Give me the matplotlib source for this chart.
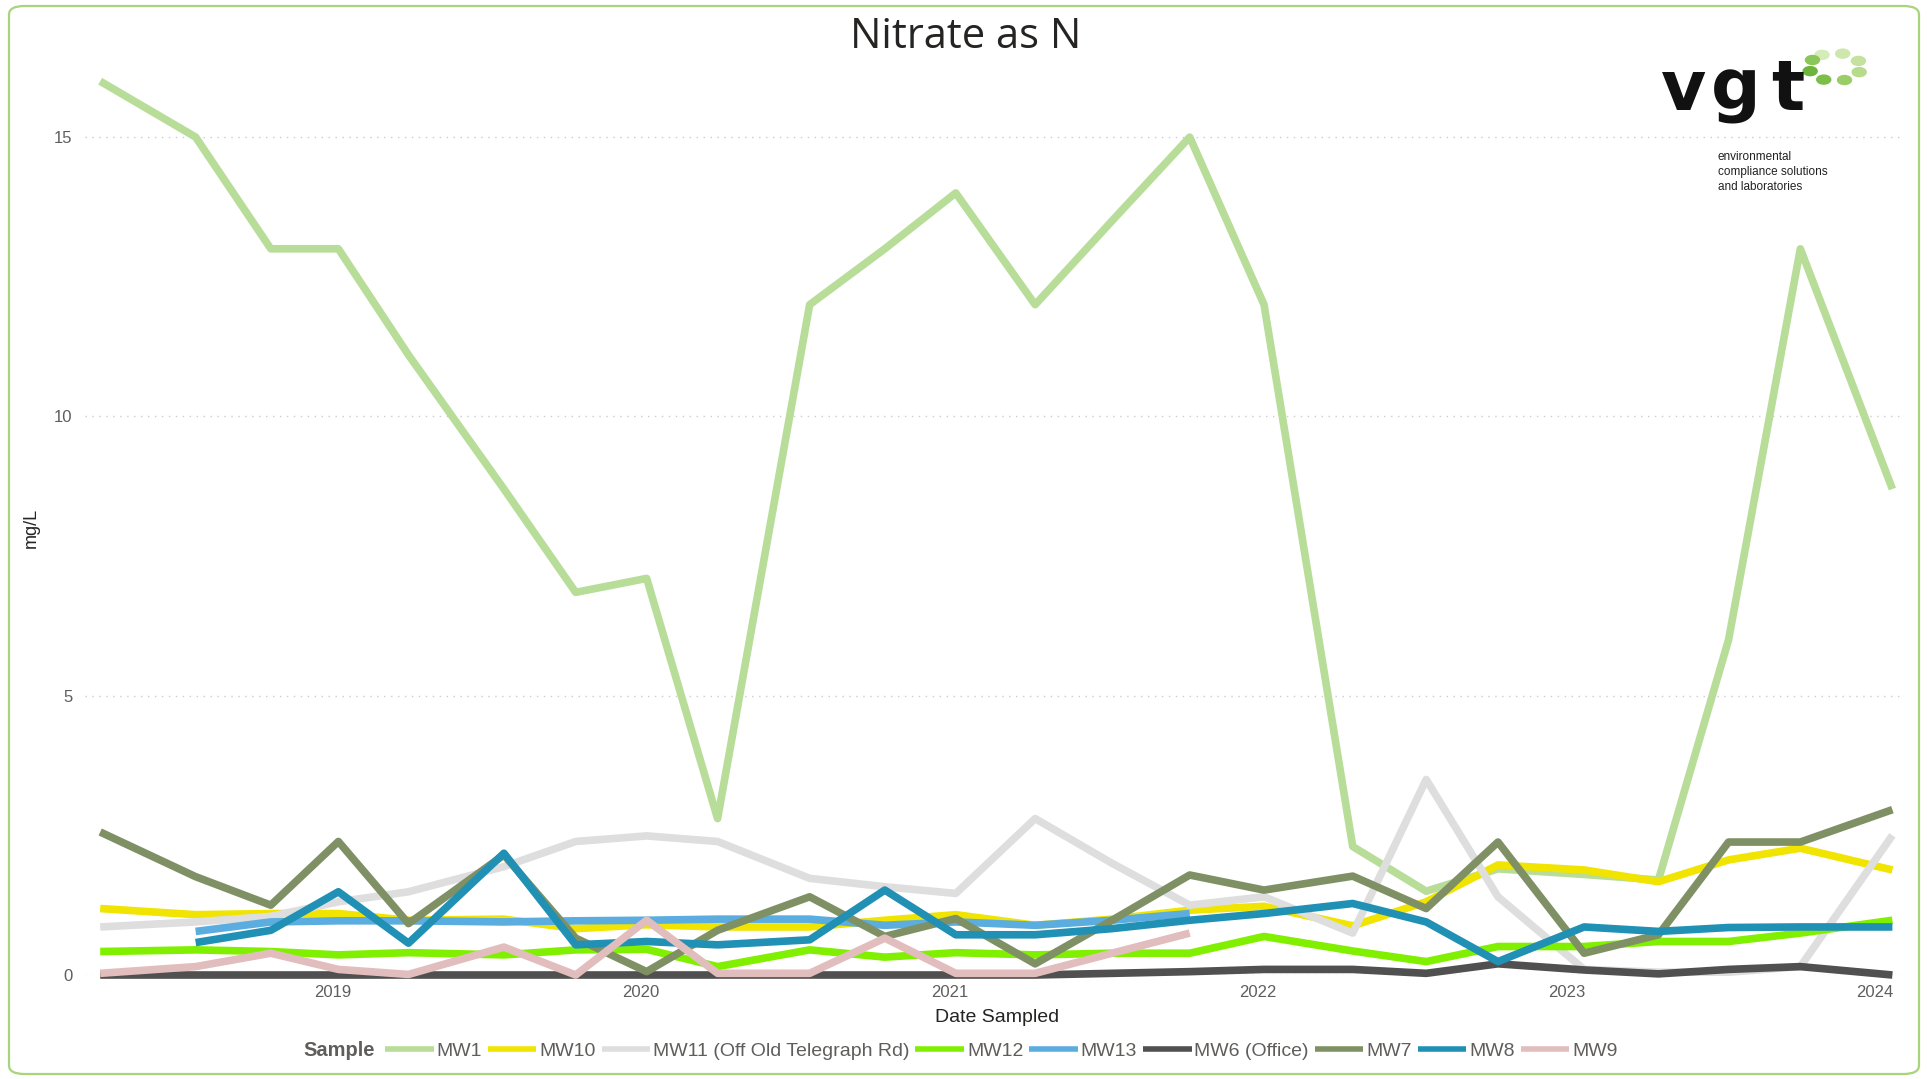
import numpy as np
import matplotlib
matplotlib.use("Agg")
import matplotlib.pyplot as plt
import matplotlib.dates as mdates
from matplotlib.patches import FancyBboxPatch, Ellipse

nan = np.nan

# fechas de muestreo (aprox. trimestral)
fechas = np.array([
    "2018-04-01", "2018-07-23", "2018-10-20", "2019-01-08", "2019-04-01", "2019-07-23",
    "2019-10-16", "2020-01-08", "2020-04-01", "2020-07-19", "2020-10-16", "2021-01-08",
    "2021-04-12", "2021-07-12", "2021-10-12", "2022-01-08", "2022-04-23", "2022-07-19",
    "2022-10-12", "2023-01-22", "2023-04-20", "2023-07-12", "2023-10-05", "2024-01-22",
], dtype="datetime64[D]")

mw1 = [16.0, 15.0, 13.0, 13.0, 11.1, 8.7, 6.85, 7.1, 2.8, 12.0, 13.0, 14.0,
       12.0, 13.5, 15.0, 12.0, 2.3, 1.5, 1.9, 1.8, 1.7, 6.0, 13.0, 8.7]
mw10 = [1.19, 1.08, 1.1, 1.1, 0.98, 1.0, 0.83, 0.9, 0.86, 0.86, 0.98, 1.08,
        0.89, 1.0, 1.16, 1.23, 0.88, 1.31, 1.97, 1.88, 1.67, 2.06, 2.27, 1.88]
mw11 = [0.86, 0.95, 1.05, 1.31, 1.49, 1.94, 2.39, 2.49, 2.39, 1.73, 1.58, 1.46,
        2.8, 2.0, 1.25, 1.4, 0.75, 3.5, 1.4, 0.1, 0.05, 0.05, 0.15, 2.5]
mw12 = [0.42, 0.45, 0.42, 0.36, 0.4, 0.36, 0.45, 0.46, 0.15, 0.45, 0.32, 0.4,
        0.36, 0.39, 0.39, 0.69, 0.43, 0.24, 0.51, 0.51, 0.6, 0.6, 0.75, 0.98]
mw13 = [nan, 0.78, 0.95, 0.97, 0.97, 0.95, 0.97, 0.98, 1.0, 1.0, 0.89, 0.95,
        0.89, 0.98, 1.1, nan, nan, nan, nan, nan, nan, nan, nan, nan]
mw6 = [0.0, 0.0, 0.0, 0.0, 0.0, 0.0, 0.0, 0.0, 0.0, 0.0, 0.0, 0.0,
       0.0, 0.03, 0.06, 0.1, 0.1, 0.03, 0.2, 0.09, 0.02, 0.1, 0.15, 0.0]
mw7 = [2.56, 1.76, 1.25, 2.39, 0.92, 2.15, 0.66, 0.06, 0.8, 1.4, 0.69, 1.01,
       0.2, 0.98, 1.79, 1.52, 1.77, 1.19, 2.38, 0.39, 0.72, 2.38, 2.38, 2.96]
mw8 = [nan, 0.58, 0.8, 1.49, 0.57, 2.18, 0.54, 0.6, 0.54, 0.63, 1.52, 0.72,
       0.72, 0.83, 0.98, 1.1, 1.28, 0.95, 0.24, 0.86, 0.78, 0.85, 0.86, 0.86]
mw9 = [0.03, 0.15, 0.39, 0.1, 0.01, 0.5, 0.0, 0.98, 0.03, 0.03, 0.66, 0.03,
       0.03, 0.39, 0.75, nan, nan, nan, nan, nan, nan, nan, nan, nan]

series = [
    ("MW1", mw1, "#B7DD98"),
    ("MW10", mw10, "#F0E400"),
    ("MW11 (Off Old Telegraph Rd)", mw11, "#DEDEDE"),
    ("MW12", mw12, "#80F000"),
    ("MW13", mw13, "#5CADDF"),
    ("MW6 (Office)", mw6, "#505050"),
    ("MW7", mw7, "#7E9064"),
    ("MW8", mw8, "#2190B5"),
    ("MW9", mw9, "#E2BDBD"),
]

W, H = 1927, 1079
fig = plt.figure(figsize=(W / 100, H / 100), dpi=100)

# borde verde redondeado
borde = FancyBboxPatch((9 / W, 5 / H), 1910 / W, 1068 / H,
                       boxstyle="round,pad=0,rounding_size=0.008",
                       transform=fig.transFigure, fill=False,
                       edgecolor="#A8D47C", linewidth=1.6)
fig.patches.append(borde)

ax = fig.add_axes([85 / W, (H - 975) / H, (1900 - 85) / W, (975 - 60) / H])
for nombre, valores, color in series:
    ax.plot(fechas, valores, color=color, lw=5.5, label=nombre,
            clip_on=False, solid_capstyle="butt")

ax.set_ylim(0, 16.38)
ax.set_xlim(np.datetime64("2018-03-14"), np.datetime64("2024-01-31"))
ax.set_yticks([0, 5, 10, 15])
ax.xaxis.set_major_locator(mdates.YearLocator())
ax.xaxis.set_major_formatter(mdates.DateFormatter("%Y"))
ax.tick_params(length=0, labelsize=12, labelcolor="#605E5C")
ax.tick_params(axis="x", pad=7)
ax.tick_params(axis="y", pad=9)
for lab in ax.get_xticklabels() + ax.get_yticklabels():
    lab.set_fontfamily("Liberation Sans")
ax.grid(axis="y", color="#CCCCCC", lw=1, linestyle=(0, (1, 4)))
ax.set_axisbelow(True)
for s in ax.spines.values():
    s.set_visible(False)

fig.text(966 / W, (H - 37) / H, "Nitrate as N", ha="center", va="center",
         fontsize=30, family="Open Sans", color="#252423")
fig.text(997 / W, (H - 1018) / H, "Date Sampled", ha="center", va="center",
         fontsize=14, family="Liberation Sans", color="#252423")
fig.text(31 / W, (H - 528) / H, "mg/L", ha="center", va="center", rotation=90,
         fontsize=13, family="Liberation Sans", color="#252423")

# leyenda
fig.text(375 / W, (H - 1051) / H, "Sample", ha="right", va="center",
         fontsize=14.5, fontweight="bold", family="Liberation Sans", color="#605E5C")
leg = fig.legend(loc="center left", bbox_to_anchor=(385 / W, (H - 1051) / H),
                 ncol=len(series), frameon=False, borderpad=0, borderaxespad=0,
                 handlelength=2.5, handletextpad=0.15, columnspacing=0.3,
                 prop={"family": "Liberation Sans", "size": 14})
for t in leg.get_texts():
    t.set_color("#605E5C")
for l in leg.get_lines():
    l.set_linewidth(4)

# logo vgt
for letra, xl in [("v", 1684), ("g", 1736), ("t", 1788)]:
    fig.text(xl / W, (H - 110) / H, letra, ha="center", va="baseline",
             fontsize=50, fontweight="bold", family="DejaVu Sans", color="#111111")
for i, linea in enumerate(["environmental", "compliance solutions", "and laboratories"]):
    fig.text(1718 / W, (H - 157 - i * 15) / H, linea, ha="left", va="center",
             fontsize=8.5, family="Liberation Sans", color="#222222")
verdes = ["#D5EBB8", "#CDE7AC", "#C4E29E", "#B6DB8A", "#9ACD68", "#7DBE4A", "#6CB43B", "#8CC659"]
for k, ang in enumerate(np.linspace(120, -210, 8)):
    a = np.deg2rad(ang)
    cx, cy = 1835 + 26 * np.cos(a), 67 - 14 * np.sin(a)
    fig.patches.append(Ellipse((cx / W, (H - cy) / H), 14 / W, 9 / H,
                               transform=fig.transFigure, color=verdes[k]))

fig.savefig("out.png", dpi=100, facecolor="white")
